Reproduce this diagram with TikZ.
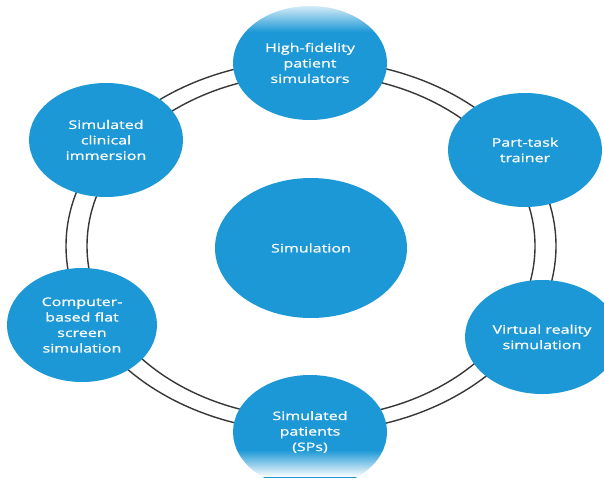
\documentclass[tikz,border=0pt]{standalone}
\usepackage{fontspec}
\setmainfont{Open Sans}[FakeStretch=1.36,FakeBold=0.9]
\usetikzlibrary{shapes.geometric,fadings}
\definecolor{simblue}{RGB}{28,152,214}
\definecolor{ringgray}{RGB}{55,55,55}
\tikzset{
  sat/.style={ellipse, fill=simblue, draw=none, minimum width=154pt, minimum height=114pt,
    inner sep=0pt, text=white, align=center, font=\fontsize{11.8}{15.5}\selectfont},
  hub/.style={ellipse, fill=simblue, draw=none, minimum width=192pt, minimum height=140pt,
    inner sep=0pt, text=white, align=center, font=\fontsize{11.8}{15.5}\selectfont},
  ringline/.style={draw=ringgray, line width=1.4pt}
}
\begin{document}
\begin{tikzpicture}[x=1pt,y=-1pt]
\useasboundingbox (0,0) rectangle (604,477);
\fill[white] (0,0) rectangle (604,477);
\coordinate (ringc) at (311,246);
\draw[ringline] (ringc) ellipse [x radius=245, y radius=186];
\draw[ringline] (ringc) ellipse [x radius=224, y radius=172];
\node[hub] (hub) at (311,248) {Simulation};
\node[sat] (top) at (310,63) {High-fidelity\\patient\\simulators};
\node[sat] (pt) at (525,150) {Part-task\\trainer};
\node[sat] (vr) at (542,337) {Virtual reality\\simulation};
\node[sat] (sp) at (310,432) {Simulated\\patients\\(SPs)};
\node[sat, minimum width=150pt] (cb) at (82,325) {Computer-\\based flat\\screen\\simulation};
\node[sat] (sci) at (106,140) {Simulated\\clinical\\immersion};
\fill[white, path fading=south] (0,0) rectangle (604,32);
\fill[white, path fading=north] (0,450) rectangle (604,477);
\end{tikzpicture}
\end{document}
